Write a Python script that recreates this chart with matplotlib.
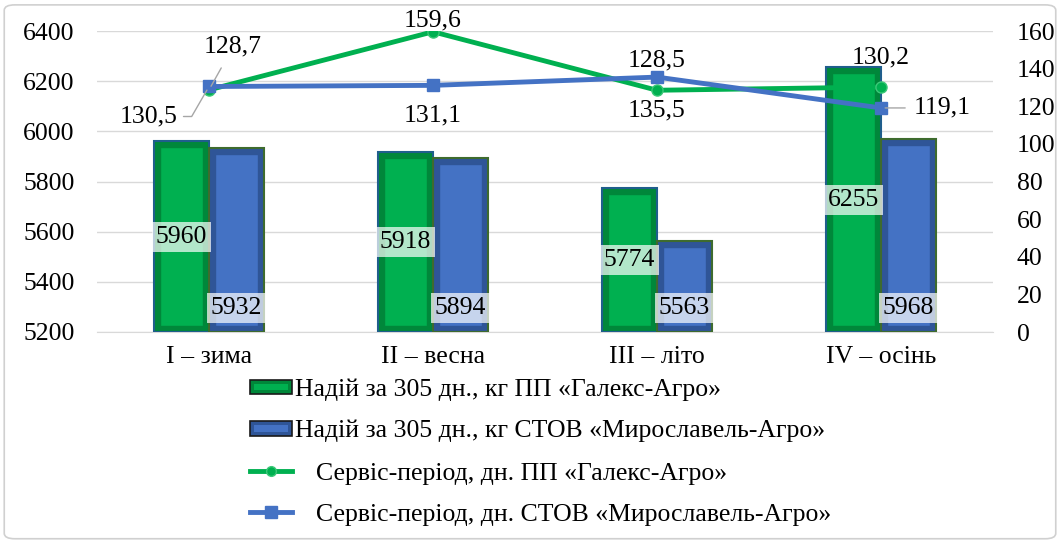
import matplotlib
matplotlib.use("Agg")
import matplotlib.pyplot as plt
import numpy as np
from matplotlib.patches import FancyBboxPatch, Rectangle
from matplotlib.lines import Line2D
from matplotlib.legend_handler import HandlerPatch

plt.rcParams['font.family'] = ['Liberation Serif', 'DejaVu Serif']

categories = ["I – зима", "II – весна", "III – літо", "IV – осінь"]
milk_galeks = [5960, 5918, 5774, 6255]
milk_myrosl = [5932, 5894, 5563, 5968]
service_galeks = [128.7, 159.6, 128.5, 130.2]
service_myrosl = [130.5, 131.1, 135.5, 119.1]
left_ticks = [5200, 5400, 5600, 5800, 6000, 6200, 6400]
right_ticks = [0, 20, 40, 60, 80, 100, 120, 140, 160]

leg_labels = ["Надій за 305 дн., кг ПП «Галекс-Агро»",
              "Надій за 305 дн., кг СТОВ «Мирославель-Агро»",
              "Сервіс-період, дн. ПП «Галекс-Агро»",
              "Сервіс-період, дн. СТОВ «Мирославель-Агро»"]

FS = 18.5
GREEN = "#00B050"
GREEN_D = "#00873A"
BLUE = "#4472C4"
BLUE_D = "#2F5597"

fig = plt.figure(figsize=(10.6, 5.42), dpi=100)
fig.patches.append(FancyBboxPatch((0.004, 0.006), 0.992, 0.985, boxstyle="round,pad=0,rounding_size=0.01",
                                  transform=fig.transFigure, facecolor="white", edgecolor="#d0d0d0", lw=1.2, zorder=-10))
ax = fig.add_axes([97/1060, 1-332/542, (993-97)/1060, (332-31)/542])
ax.set_facecolor("none")
ax2 = ax.twinx()

x = np.arange(len(categories))
w = 0.245
ax.set_xlim(-0.5, len(categories)-0.5)
ax.set_ylim(5200, 6400)
ax2.set_ylim(0, 160)

px_y = 1200/301.0
def bevel(xs, vals, face, dark, edge):
    ax.bar(xs, np.array(vals)-5200, w, bottom=5200, color=dark, edgecolor=edge, lw=1.5, zorder=3)
    ax.bar(xs, np.array(vals)-5200-12*px_y, w*0.78, bottom=5200+6*px_y, color=face,
           edgecolor=dark, lw=1.0, zorder=4)

bevel(x - w/2, milk_galeks, GREEN, GREEN_D, "#1F5E8C")
bevel(x + w/2, milk_myrosl, BLUE, BLUE_D, "#3E6B2E")

for xi, v in zip(x - w/2, milk_galeks):
    ax.text(xi, (5200+v)/2, f"{v}", ha="center", va="center", fontsize=FS, zorder=6,
            bbox=dict(facecolor="white", alpha=0.7, edgecolor="none", pad=3))
for xi, v in zip(x + w/2, milk_myrosl):
    ax.text(xi, 5295, f"{v}", ha="center", va="center", fontsize=FS, zorder=6,
            bbox=dict(facecolor="white", alpha=0.7, edgecolor="none", pad=3))

ax.set_yticks(left_ticks)
ax2.set_yticks(right_ticks)
ax.set_xticks(x)
ax.set_xticklabels(categories, fontsize=FS)
ax.tick_params(axis="y", labelsize=FS, length=0, pad=16)
ax.tick_params(axis="x", length=0, pad=10)
ax2.tick_params(axis="y", labelsize=FS, length=0, pad=17)
ax.grid(axis="y", color="#d9d9d9", lw=1.0, zorder=0)
ax.set_axisbelow(True)
for a in (ax, ax2):
    for s in a.spines.values():
        s.set_visible(False)
ax.spines["bottom"].set_visible(True)
ax.spines["bottom"].set_color("#d9d9d9")

ax2.plot(x, service_galeks, color=GREEN, lw=3.5, marker="o", ms=8, mfc=GREEN, mec="#3CC878", zorder=5)
ax2.plot(x, service_myrosl, color=BLUE, lw=3.5, marker="s", ms=9, mfc=BLUE, mec=BLUE, zorder=5)

def fmt(v):
    return f"{v:.1f}".replace(".", ",")

lab = dict(fontsize=FS, ha="center", va="center", textcoords="offset pixels", zorder=7)
ann = [
    (0, service_galeks[0], (24, 43), "arc3", 6),
    (0, service_myrosl[0], (-60, -30), "angle,angleA=0,angleB=60,rad=0", 2),
    (1, service_galeks[1], (0, 11), None, 0),
    (1, service_myrosl[1], (0, -30), None, 0),
    (2, service_galeks[2], (0, 30), None, 0),
    (2, service_myrosl[2], (0, -33), None, 0),
    (3, service_galeks[3], (0, 30), None, 0),
    (3, service_myrosl[3], (61, 0), "arc3", 4),
]
for xi, v, off, conn, shr in ann:
    kw = dict(lab)
    if conn:
        kw["arrowprops"] = dict(arrowstyle="-", color="#a6a6a6", lw=1, shrinkA=shr, shrinkB=3,
                                connectionstyle=conn)
    ax2.annotate(fmt(v), (xi, v), xytext=off, **kw)

class BarHandle(HandlerPatch):
    def __init__(self, face, dark):
        super().__init__()
        self.face, self.dark = face, dark
    def create_artists(self, legend, orig_handle, xdescent, ydescent, width, height, fontsize, trans):
        r1 = Rectangle((-xdescent, -ydescent + height*0.1), width, height*0.8, facecolor=self.dark,
                       edgecolor="#1a1a1a", lw=1.2, transform=trans)
        r2 = Rectangle((-xdescent + width*0.1, -ydescent + height*0.32), width*0.8, height*0.36,
                       facecolor=self.face, edgecolor="none", transform=trans)
        return [r1, r2]

h1 = Rectangle((0, 0), 1, 1)
h2 = Rectangle((0, 0), 1, 2)
h3 = Line2D([], [], color=GREEN, lw=3.5, marker="o", ms=7, mfc=GREEN, mec="#3CC878")
h4 = Line2D([], [], color=BLUE, lw=3.5, marker="s", ms=8, mfc=BLUE, mec=BLUE)
hl = 42 / (FS*100/72)
leg1 = fig.legend([h1, h2], leg_labels[:2], loc="upper left", bbox_to_anchor=(250/1060, 1-378/542),
           frameon=False, fontsize=FS, labelspacing=0.72, handlelength=hl, handletextpad=0.1,
           borderaxespad=0, borderpad=0,
           handler_map={h1: BarHandle(GREEN, GREEN_D), h2: BarHandle(BLUE, BLUE_D)})
leg2 = fig.legend([h3, h4], leg_labels[2:], loc="upper left", bbox_to_anchor=(250/1060, 1-462/542),
           frameon=False, fontsize=FS, labelspacing=0.72, handlelength=hl, handletextpad=0.95,
           borderaxespad=0, borderpad=0)

fig.savefig("out.png", dpi=100)
